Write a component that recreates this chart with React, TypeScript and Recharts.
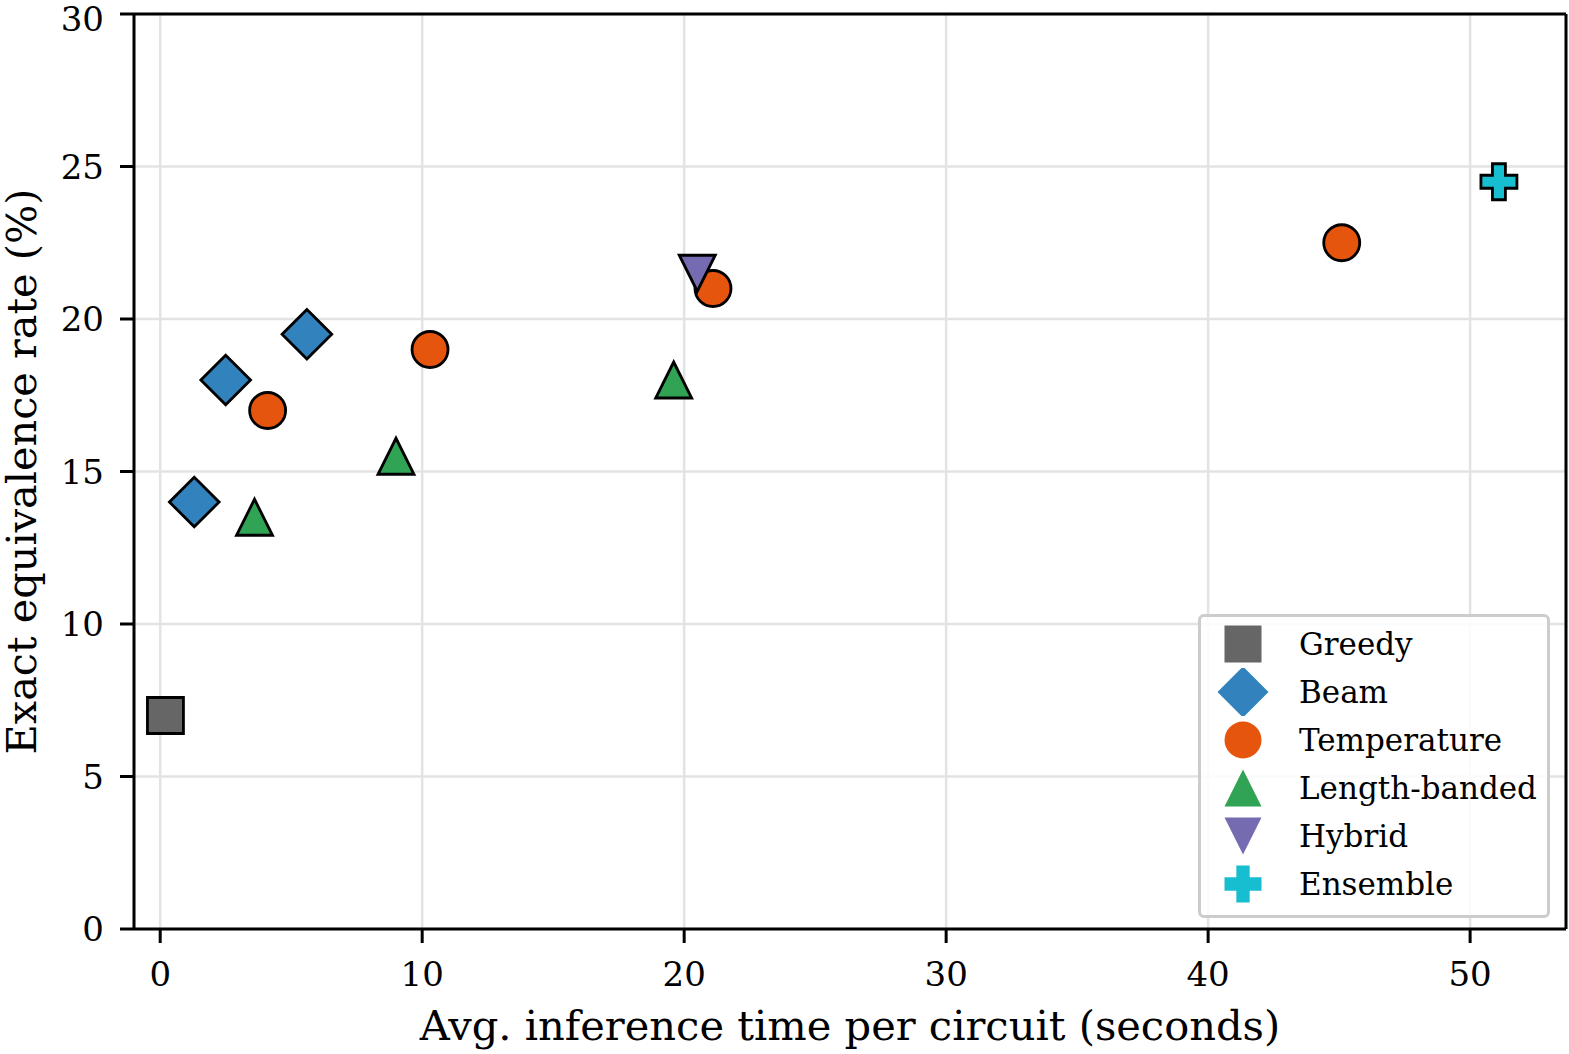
import React from 'react';
import { ScatterChart, Scatter, XAxis, YAxis, CartesianGrid, Legend, ReferenceLine } from 'recharts';

// series, in drawing order
const seriesNames = ['Greedy', 'Beam', 'Temperature', 'Length-banded', 'Hybrid', 'Ensemble'];
const seriesColors = ['#666666', '#3182bd', '#e6550d', '#31a354', '#756bb1', '#17becf'];
const seriesMarkers = ['square', 'diamond', 'circle', 'triangleUp', 'triangleDown', 'plus'];

const greedyX = [0.2];
const greedyY = [7];
const beamX = [1.3, 2.5, 5.6];
const beamY = [14, 18, 19.5];
const temperatureX = [4.1, 10.3, 21.1, 45.1];
const temperatureY = [17, 19, 21, 22.5];
const lengthBandedX = [3.6, 9.0, 19.6];
const lengthBandedY = [13.5, 15.5, 18];
const hybridX = [20.5];
const hybridY = [21.5];
const ensembleX = [51.1];
const ensembleY = [24.5];

const xTicks = [0, 10, 20, 30, 40, 50];
const yTicks = [0, 5, 10, 15, 20, 25, 30];

const seriesX = [greedyX, beamX, temperatureX, lengthBandedX, hybridX, ensembleX];
const seriesY = [greedyY, beamY, temperatureY, lengthBandedY, hybridY, ensembleY];

const X_MIN = -1;
const X_MAX = 53.66;
const Y_MAX = 30;

const FONT = '"DejaVu Serif", serif';

function markerPath(kind: string, cx: number, cy: number, s: number) {
  switch (kind) {
    case 'square':
      return `M${cx - s},${cy - s}H${cx + s}V${cy + s}H${cx - s}Z`;
    case 'diamond': {
      const d = s * 1.38;
      return `M${cx},${cy - d}L${cx + d},${cy}L${cx},${cy + d}L${cx - d},${cy}Z`;
    }
    case 'triangleUp':
      return `M${cx},${cy - s}L${cx + s},${cy + s}L${cx - s},${cy + s}Z`;
    case 'triangleDown':
      return `M${cx},${cy + s}L${cx + s},${cy - s}L${cx - s},${cy - s}Z`;
    case 'plus': {
      const t = s * 0.36;
      return `M${cx - t},${cy - s}H${cx + t}V${cy - t}H${cx + s}V${cy + t}H${cx + t}V${cy + s}H${cx - t}V${cy + t}H${cx - s}V${cy - t}H${cx - t}Z`;
    }
    default:
      return '';
  }
}

function Marker({ kind, cx, cy, s, fill, edge }: any) {
  if (kind === 'circle') {
    return <circle cx={cx} cy={cy} r={s} fill={fill} stroke={edge ? '#000' : 'none'} strokeWidth={2.8} />;
  }
  return (
    <path
      d={markerPath(kind, cx, cy, s)}
      fill={fill}
      stroke={edge ? '#000' : 'none'}
      strokeWidth={2.8}
      strokeLinejoin="miter"
    />
  );
}

function LegendBox() {
  return (
    <div
      style={{
        width: 346,
        height: 295,
        border: '3px solid #cccccc',
        borderRadius: 6,
        background: 'rgba(255,255,255,0.85)',
        fontFamily: FONT,
        fontSize: 31,
        paddingTop: 3,
        boxSizing: 'content-box',
      }}
    >
      {seriesNames.map((name, i) => (
        <div key={name} style={{ height: 48, display: 'flex', alignItems: 'center' }}>
          <svg width={90} height={48} style={{ flex: 'none' }}>
            <Marker kind={seriesMarkers[i]} cx={42} cy={24} s={18.5} fill={seriesColors[i]} edge={false} />
          </svg>
          <span style={{ marginLeft: 8, color: '#000' }}>{name}</span>
        </div>
      ))}
    </div>
  );
}

export default function App() {
  return (
    <div style={{ position: 'absolute', left: 0, top: 0, background: '#fff' }}>
      <ScatterChart width={1569} height={1054} margin={{ top: 14, right: 3, left: 0, bottom: 0 }}>
        <CartesianGrid stroke="#e3e3e3" strokeWidth={2.5} />
        <XAxis
          type="number"
          dataKey="x"
          domain={[X_MIN, X_MAX]}
          ticks={xTicks}
          allowDataOverflow
          height={125}
          tickSize={14}
          tickMargin={19}
          axisLine={{ stroke: '#000', strokeWidth: 3 }}
          tickLine={{ stroke: '#000', strokeWidth: 3 }}
          tick={{ fill: '#000', fontSize: 34, fontFamily: FONT }}
          label={{
            value: 'Avg. inference time per circuit (seconds)',
            position: 'insideBottom',
            offset: 14,
            style: { fill: '#000', fontSize: 41.6, fontFamily: FONT },
          }}
        />
        <YAxis
          type="number"
          dataKey="y"
          domain={[0, Y_MAX]}
          ticks={yTicks}
          width={134}
          tickSize={14}
          tickMargin={16}
          axisLine={{ stroke: '#000', strokeWidth: 3 }}
          tickLine={{ stroke: '#000', strokeWidth: 3 }}
          tick={{ fill: '#000', fontSize: 34, fontFamily: FONT }}
          label={{
            value: 'Exact equivalence rate (%)',
            angle: -90,
            position: 'insideLeft',
            offset: 21,
            style: { fill: '#000', fontSize: 41.4, fontFamily: FONT, textAnchor: 'middle' },
          }}
        />
        {/* closing frame: top and right spines */}
        <ReferenceLine y={Y_MAX} stroke="#000" strokeWidth={3} ifOverflow="visible" />
        <ReferenceLine x={X_MAX} stroke="#000" strokeWidth={3} ifOverflow="visible" />
        {seriesNames.map((name, i) => (
          <Scatter
            key={name}
            name={name}
            data={seriesX[i].map((x, j) => ({ x, y: seriesY[i][j] }))}
            fill={seriesColors[i]}
            isAnimationActive={false}
            shape={(p: any) => (
              <Marker kind={seriesMarkers[i]} cx={p.cx} cy={p.cy} s={18} fill={seriesColors[i]} edge />
            )}
          />
        ))}
        <Legend
          layout="vertical"
          align="center"
          verticalAlign="middle"
          content={() => <LegendBox />}
          wrapperStyle={{ left: 1198, top: 614, width: 352, height: 301 }}
        />
      </ScatterChart>
    </div>
  );
}
